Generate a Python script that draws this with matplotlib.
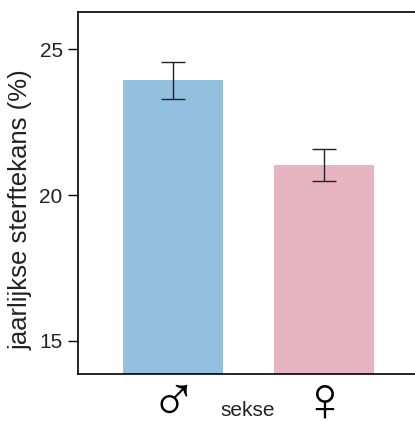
import matplotlib.pyplot as plt

plt.rcParams['font.family'] = ['Liberation Sans', 'DejaVu Sans']

sexes = ['\u2642', '\u2640']
rates = [23.95, 21.03]
err_low = [23.29, 20.47]
err_high = [24.56, 21.58]
colors = ['#94c0e0', '#e7b5c1']

fig = plt.figure(figsize=(4.15, 4.21), dpi=100)
ax = fig.add_axes([78 / 415, 1 - 374 / 421, 1 - 78 / 415, (374 - 11.5) / 421])

pos = [1, 2]
ax.bar(pos, rates, width=0.662, color=colors, zorder=1)
yerr = [[r - lo for r, lo in zip(rates, err_low)], [hi - r for r, hi in zip(rates, err_high)]]
ax.errorbar(pos, rates, yerr=yerr, fmt='none', ecolor='#222222', elinewidth=1.0,
            capsize=8.6, capthick=1.0, zorder=2)

ax.set_xlim(0.371, 2.603)
ax.set_ylim(13.86, 26.3)
ax.set_yticks([15, 20, 25])
ax.tick_params(axis='y', length=7, width=1, labelsize=15, pad=4, labelcolor='#222222')
ax.set_xticks(pos)
ax.set_xticklabels(sexes, fontsize=46)
ax.tick_params(axis='x', length=0, pad=0)
ax.spines['right'].set_visible(False)
for s in ['left', 'top', 'bottom']:
    ax.spines[s].set_linewidth(1.2)

fig.text(248 / 415, 1 / 421, 'sekse', fontsize=15, ha='center', va='bottom',
         color='#222222')
fig.text(21 / 415, 1 - 210 / 421, 'jaarlijkse sterftekans (%)', fontsize=18.5, rotation=90,
         ha='center', va='center', color='#222222')

fig.savefig('out.png', dpi=100)
